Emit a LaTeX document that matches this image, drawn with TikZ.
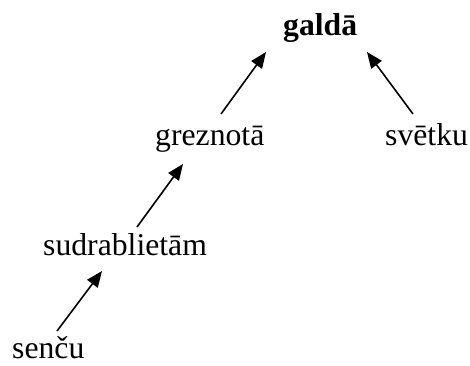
\documentclass[tikz,border=0pt]{standalone}
\usepackage{fontspec}
\setmainfont{Liberation Serif}
\usetikzlibrary{arrows.meta}
\begin{document}
\begin{tikzpicture}[x=1pt,y=1pt,
  word/.style={anchor=base west,inner sep=0pt,font=\fontsize{31.7}{38}\selectfont},
  arr/.style={line width=1.6pt,-{Triangle[length=16pt,width=13pt]}}]
\useasboundingbox (0,0) rectangle (470,365);
\node[word,font=\fontsize{31.7}{38}\selectfont\bfseries] (galda) at (283,330) {galdā};
\node[word] (greznota) at (155,220) {greznotā};
\node[word] (svetku) at (385,220) {svētku};
\node[word] (sudrab) at (43,110) {sudrablietām};
\node[word] (sencu) at (12,7) {senču};
\coordinate (t1) at (221,251); \coordinate (h1) at (266,313);
\coordinate (t2) at (413,251); \coordinate (h2) at (367,313);
\coordinate (t3) at (137,138); \coordinate (h3) at (183,201);
\coordinate (t4) at (57,34);  \coordinate (h4) at (102,94);
\draw[arr] (t1) -- (h1);
\draw[arr] (t2) -- (h2);
\draw[arr] (t3) -- (h3);
\draw[arr] (t4) -- (h4);
\end{tikzpicture}
\end{document}
